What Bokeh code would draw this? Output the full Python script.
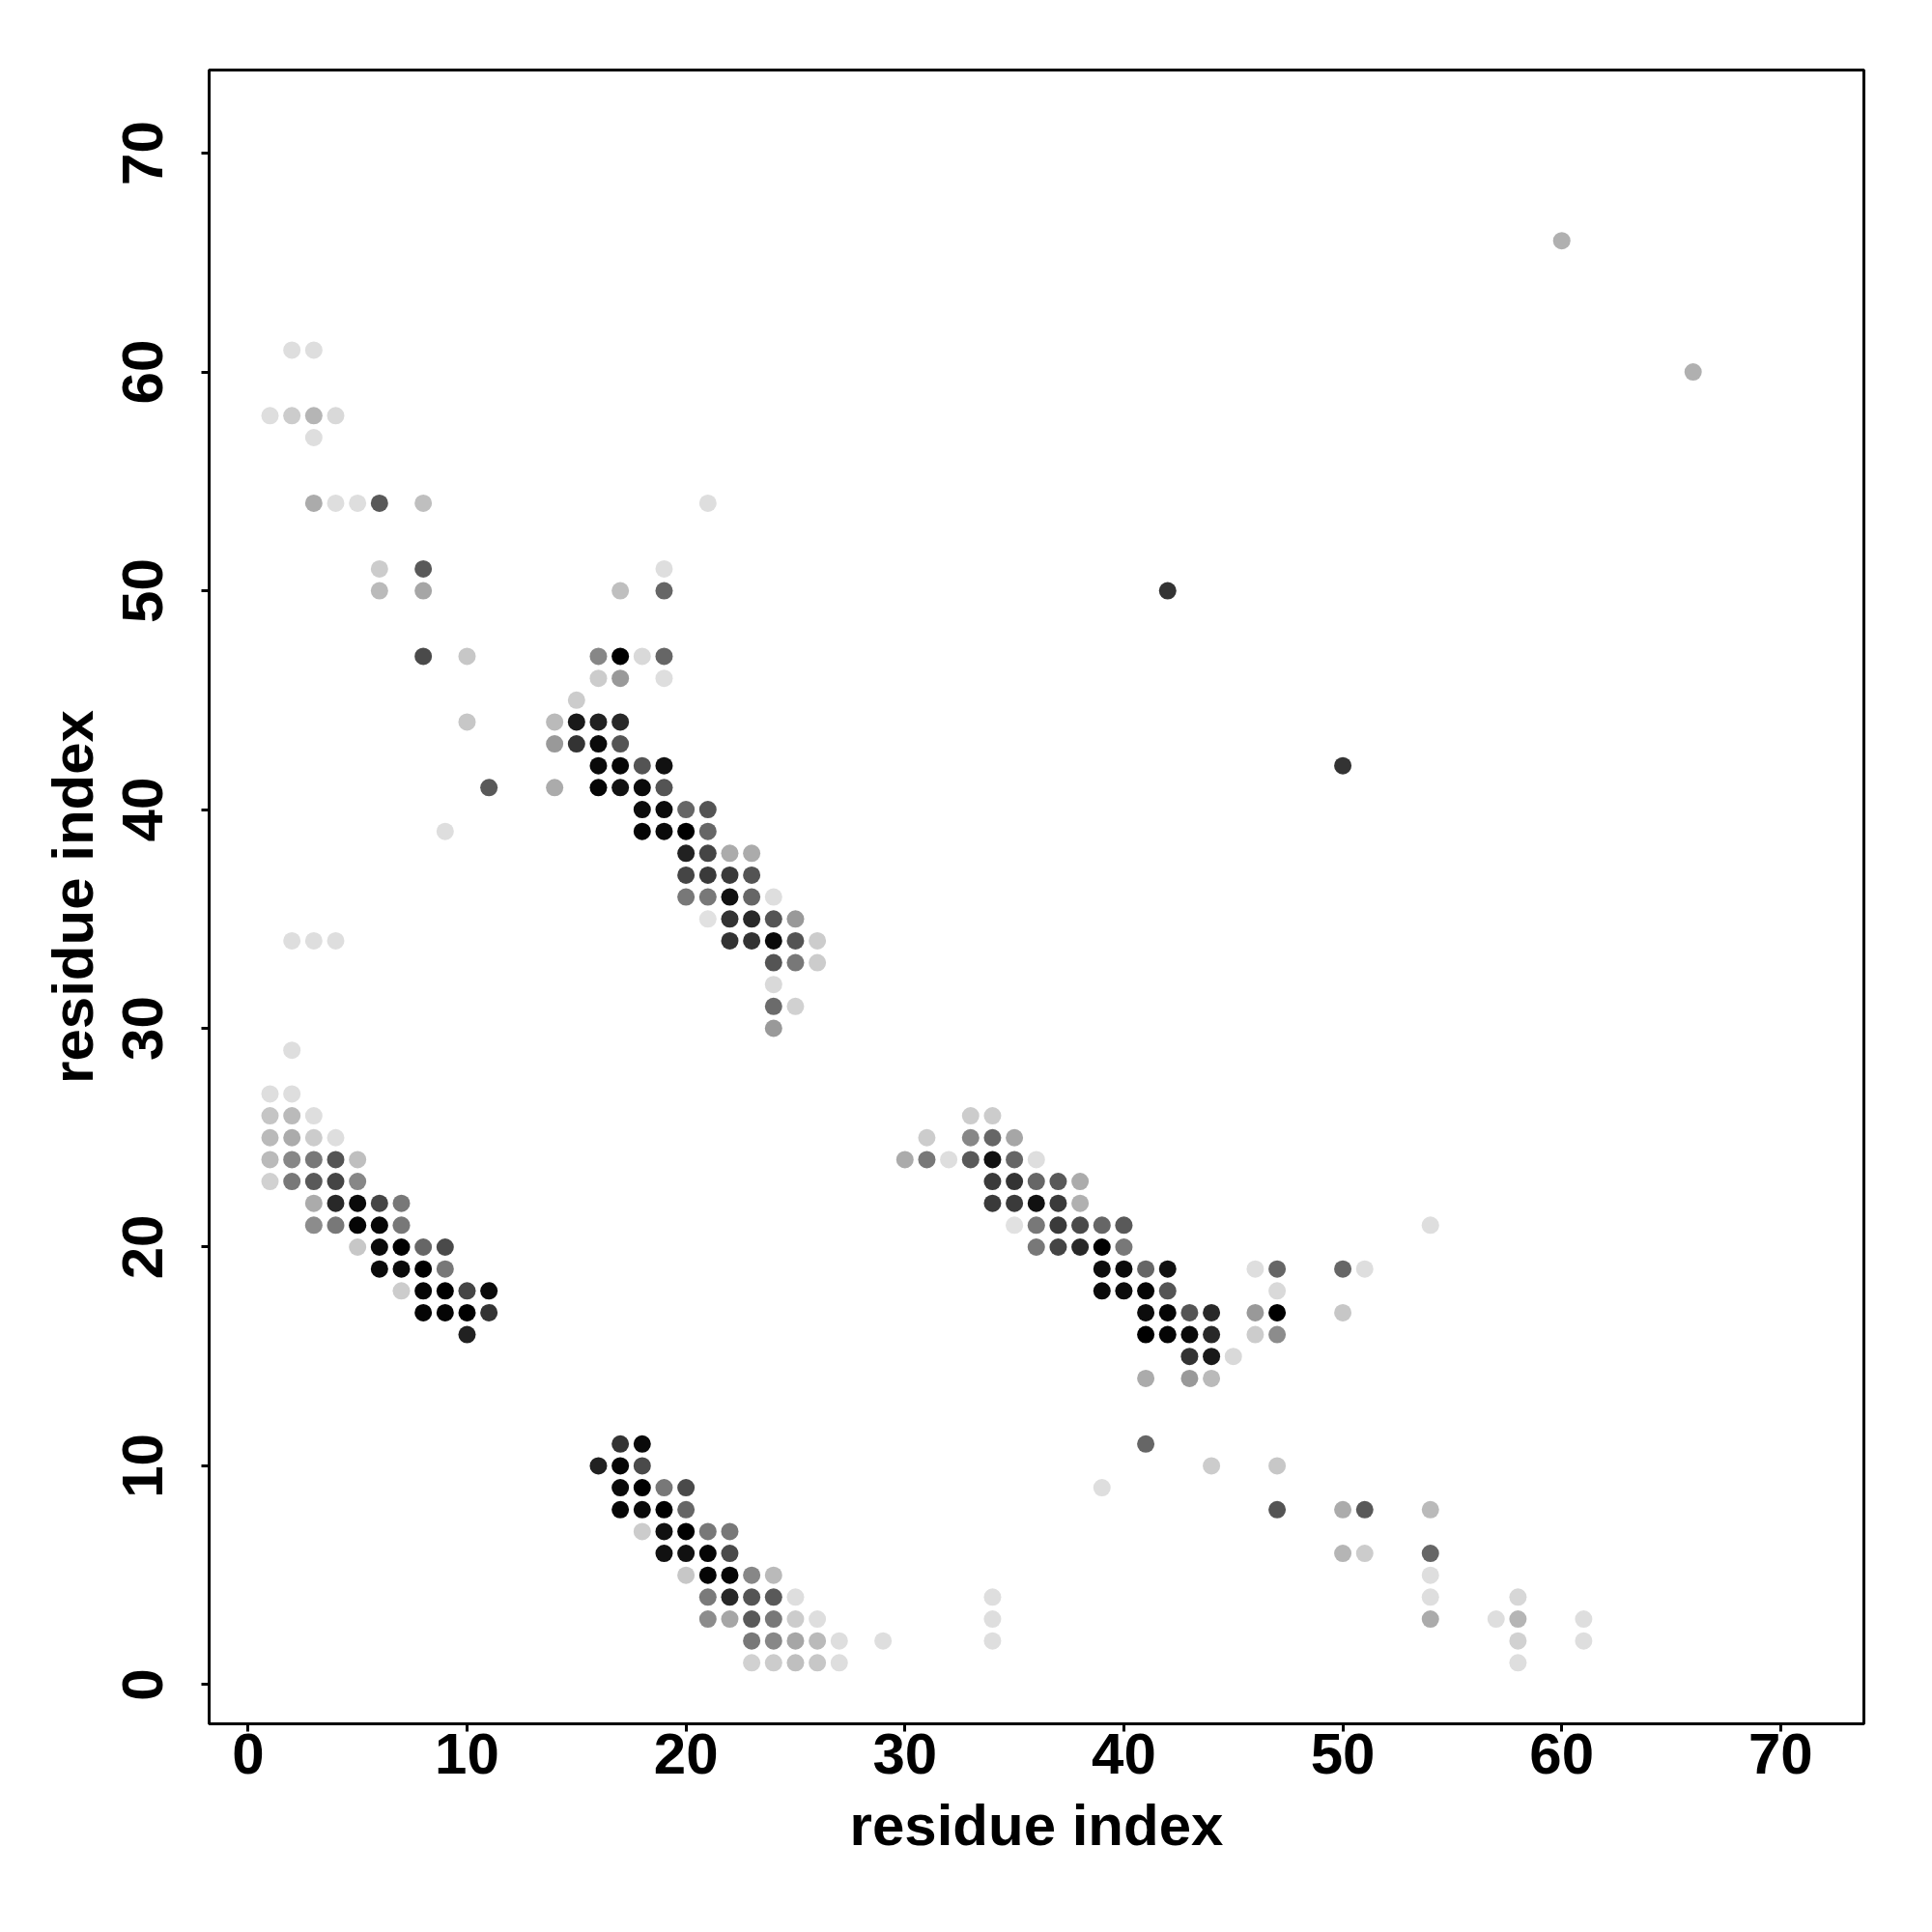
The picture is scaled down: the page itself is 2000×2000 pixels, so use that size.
import math
from bokeh.plotting import figure
from bokeh.models import Range1d, FixedTicker, LinearColorMapper, ColumnDataSource
from bokeh.palettes import Greys256
from bokeh.embed import file_html
from bokeh.resources import INLINE

# ---- data: residue pair (i, j) and contact probability ----
res_i = [
    2, 3,
    1, 2, 3, 4,
    3,
    3, 4, 5, 6, 8,
    6, 8,
    6, 8,
    8, 10,
    10,
    11,
    9,
    21,
    19,
    17, 19,
    16, 17, 18, 19,
    16, 17, 19,
    15,
    14, 15, 16, 17,
    14, 15, 16, 17,
    16, 17, 18, 19,
    14, 16, 17, 18, 19,
    18, 19, 20, 21,
    18, 19, 20, 21,
    20, 21, 22, 23,
    20, 21, 22, 23,
    20, 21, 22, 23, 24,
    21, 22, 23, 24, 25,
    22, 23, 24, 25, 26,
    24, 25, 26,
    24,
    24, 25,
    24,
    2, 3, 4,
    2,
    1, 2,
    1, 2, 3,
    1, 2, 3, 4,
    1, 2, 3, 4, 5,
    1, 2, 3, 4, 5,
    3, 4, 5, 6, 7,
    3, 4, 5, 6, 7,
    5, 6, 7, 8, 9,
    6, 7, 8, 9,
    7, 8, 9, 10, 11,
    8, 9, 10, 11,
    10,
    17, 18,
    16, 17, 18,
    17, 18, 19, 20,
    17, 18, 19, 20,
    18, 19, 20, 21, 22,
    19, 20, 21, 22,
    20, 21, 22, 23, 24,
    21, 22, 23, 24, 25,
    21, 22, 23, 24, 25, 26,
    23, 24, 25, 26, 27, 29,
    23, 24, 25, 26, 27,
    33, 34,
    31, 33, 34, 35,
    30, 31, 32, 33, 34, 35, 36,
    34, 35, 36, 37, 38,
    34, 35, 36, 37, 38,
    35, 36, 37, 38, 39, 40,
    36, 37, 38, 39, 40,
    39, 40, 41, 42, 46, 47,
    39, 40, 41, 42, 47,
    41, 42, 43, 44, 46, 47,
    41, 42, 43, 44, 46, 47,
    43, 44, 45,
    41, 43, 44,
    50, 51,
    50,
    54,
    41,
    44, 47,
    39,
    47, 50, 51, 54,
    50, 51, 54,
    54,
    54, 58,
    54, 57, 58, 61,
    58, 61,
    58,
    34, 34, 34,
    42, 50,
    60, 66,
]

res_j = [
    61, 61,
    58, 58, 58, 58,
    57,
    54, 54, 54, 54, 54,
    51, 51,
    50, 50,
    47, 47,
    44,
    41,
    39,
    54,
    51,
    50, 50,
    47, 47, 47, 47,
    46, 46, 46,
    45,
    44, 44, 44, 44,
    43, 43, 43, 43,
    42, 42, 42, 42,
    41, 41, 41, 41, 41,
    40, 40, 40, 40,
    39, 39, 39, 39,
    38, 38, 38, 38,
    37, 37, 37, 37,
    36, 36, 36, 36, 36,
    35, 35, 35, 35, 35,
    34, 34, 34, 34, 34,
    33, 33, 33,
    32,
    31, 31,
    30,
    34, 34, 34,
    29,
    27, 27,
    26, 26, 26,
    25, 25, 25, 25,
    24, 24, 24, 24, 24,
    23, 23, 23, 23, 23,
    22, 22, 22, 22, 22,
    21, 21, 21, 21, 21,
    20, 20, 20, 20, 20,
    19, 19, 19, 19,
    18, 18, 18, 18, 18,
    17, 17, 17, 17,
    16,
    11, 11,
    10, 10, 10,
    9, 9, 9, 9,
    8, 8, 8, 8,
    7, 7, 7, 7, 7,
    6, 6, 6, 6,
    5, 5, 5, 5, 5,
    4, 4, 4, 4, 4,
    3, 3, 3, 3, 3, 3,
    2, 2, 2, 2, 2, 2,
    1, 1, 1, 1, 1,
    26, 26,
    25, 25, 25, 25,
    24, 24, 24, 24, 24, 24, 24,
    23, 23, 23, 23, 23,
    22, 22, 22, 22, 22,
    21, 21, 21, 21, 21, 21,
    20, 20, 20, 20, 20,
    19, 19, 19, 19, 19, 19,
    18, 18, 18, 18, 18,
    17, 17, 17, 17, 17, 17,
    16, 16, 16, 16, 16, 16,
    15, 15, 15,
    14, 14, 14,
    19, 19,
    17,
    21,
    11,
    10, 10,
    9,
    8, 8, 8, 8,
    6, 6, 6,
    5,
    4, 4,
    3, 3, 3, 3,
    2, 2,
    1,
    4, 3, 2,
    50, 42,
    66, 60,
]

contact_prob = [
    0.13, 0.13,
    0.13, 0.20, 0.29, 0.15,
    0.13,
    0.33, 0.13, 0.13, 0.65, 0.25,
    0.20, 0.65,
    0.27, 0.35,
    0.71, 0.22,
    0.22,
    0.65,
    0.13,
    0.13,
    0.13,
    0.25, 0.60,
    0.47, 1.00, 0.15, 0.60,
    0.20, 0.40, 0.13,
    0.20,
    0.27, 0.90, 0.87, 0.84,
    0.40, 0.80, 0.96, 0.67,
    0.96, 0.97, 0.67, 0.93,
    0.33, 0.98, 0.93, 0.96, 0.67,
    0.95, 0.96, 0.60, 0.67,
    0.98, 0.96, 1.00, 0.60,
    0.87, 0.73, 0.33, 0.33,
    0.73, 0.77, 0.77, 0.67,
    0.53, 0.53, 0.93, 0.60, 0.13,
    0.12, 0.80, 0.84, 0.67, 0.40,
    0.80, 0.80, 0.96, 0.67, 0.20,
    0.67, 0.53, 0.20,
    0.15,
    0.58, 0.18,
    0.40,
    0.13, 0.13, 0.13,
    0.13,
    0.13, 0.13,
    0.23, 0.27, 0.13,
    0.27, 0.33, 0.20, 0.13,
    0.27, 0.47, 0.53, 0.67, 0.25,
    0.18, 0.53, 0.65, 0.73, 0.47,
    0.33, 0.84, 0.96, 0.73, 0.53,
    0.45, 0.53, 0.98, 0.97, 0.53,
    0.22, 0.96, 1.00, 0.60, 0.71,
    0.96, 0.96, 1.00, 0.53,
    0.20, 0.98, 1.00, 0.73, 0.96,
    0.98, 0.98, 1.00, 0.80,
    0.87,
    0.80, 0.96,
    0.87, 0.98, 0.71,
    0.96, 1.00, 0.53, 0.71,
    0.98, 0.96, 1.00, 0.60,
    0.20, 0.93, 1.00, 0.53, 0.53,
    0.93, 0.93, 0.98, 0.71,
    0.22, 0.98, 0.98, 0.47, 0.27,
    0.52, 0.84, 0.67, 0.65, 0.13,
    0.45, 0.35, 0.65, 0.53, 0.20, 0.13,
    0.53, 0.47, 0.35, 0.27, 0.13, 0.13,
    0.18, 0.20, 0.25, 0.22, 0.13,
    0.20, 0.20,
    0.20, 0.47, 0.60, 0.35,
    0.33, 0.53, 0.13, 0.65, 0.93, 0.60, 0.13,
    0.77, 0.80, 0.60, 0.65, 0.33,
    0.77, 0.77, 0.93, 0.77, 0.31,
    0.12, 0.53, 0.77, 0.71, 0.60, 0.65,
    0.53, 0.73, 0.84, 1.00, 0.53,
    0.95, 0.96, 0.60, 0.93, 0.13, 0.60,
    0.96, 0.95, 0.98, 0.67, 0.15,
    0.95, 0.98, 0.67, 0.84, 0.40, 1.00,
    1.00, 0.98, 0.96, 0.84, 0.20, 0.45,
    0.80, 0.90, 0.15,
    0.33, 0.40, 0.27,
    0.60, 0.13,
    0.22,
    0.13,
    0.60,
    0.20, 0.22,
    0.13,
    0.67, 0.33, 0.65, 0.27,
    0.29, 0.20, 0.60,
    0.13,
    0.13, 0.16,
    0.33, 0.13, 0.29, 0.13,
    0.18, 0.13,
    0.13,
    0.13, 0.13, 0.13,
    0.80, 0.80,
    0.31, 0.31,
]

x_ticks = [0, 10, 20, 30, 40, 50, 60, 70]
y_ticks = [0, 10, 20, 30, 40, 50, 60, 70]
axis_title = "residue index"

assert len(res_i) == len(res_j) == len(contact_prob)

src = ColumnDataSource(dict(x=res_i, y=res_j, p=contact_prob))
mapper = LinearColorMapper(palette=list(reversed(Greys256)), low=0.0, high=1.0)

p = figure(
    frame_width=1713, frame_height=1712,
    min_border_left=216, min_border_top=72, min_border_right=40, min_border_bottom=180,
    x_range=Range1d(-1.78, 73.8), y_range=Range1d(-1.79, 73.8),
    output_backend="svg", toolbar_location=None,
)
p.background_fill_color = "white"
p.border_fill_color = "white"
p.outline_line_color = "black"
p.outline_line_width = 3
p.xgrid.visible = False
p.ygrid.visible = False

p.scatter("x", "y", source=src, size=18,
          fill_color={"field": "p", "transform": mapper}, line_color=None)

font = "Liberation Sans"
for ax, ticks in ((p.xaxis[0], x_ticks), (p.yaxis[0], y_ticks)):
    ax.ticker = FixedTicker(ticks=ticks)
    ax.axis_line_color = None
    ax.major_tick_line_color = "black"
    ax.major_tick_line_width = 3
    ax.major_tick_in = 0
    ax.major_tick_out = 8
    ax.minor_tick_line_color = None
    ax.major_label_text_font = font
    ax.major_label_text_font_style = "bold"
    ax.major_label_text_font_size = "60px"
    ax.major_label_text_color = "black"
    ax.axis_label = axis_title
    ax.axis_label_text_font = font
    ax.axis_label_text_font_style = "bold"
    ax.axis_label_text_font_size = "60px"
    ax.axis_label_text_color = "black"

p.xaxis[0].major_label_standoff = 2
p.xaxis[0].axis_label_standoff = 17
p.yaxis[0].major_label_orientation = "parallel"
p.yaxis[0].major_label_standoff = 40
p.yaxis[0].axis_label_standoff = 16

open("out.html", "w").write(file_html(p, INLINE))
